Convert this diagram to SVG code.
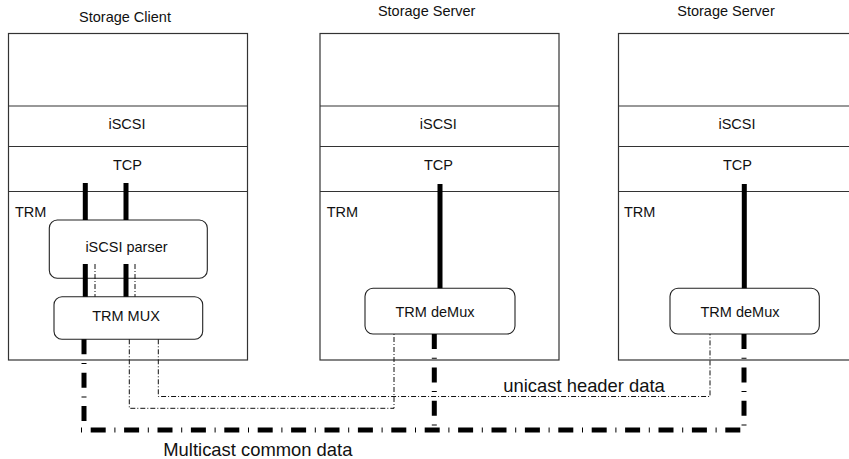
<svg xmlns="http://www.w3.org/2000/svg" width="849" height="459" viewBox="0 0 849 459">
<style>
text{font-family:"Liberation Sans",Arial,sans-serif;fill:#111}
.lbl{font-size:14.5px}
.mid{text-anchor:middle}
.big{font-size:18.4px}
.box{fill:#fff;stroke:#333;stroke-width:1.2}
.sep{stroke:#333;stroke-width:1.2;fill:none}
.rb{fill:#fff;stroke:#222;stroke-width:1.1}
.thick{stroke:#000;stroke-width:5;fill:none}
.mc{stroke:#000;stroke-width:5;fill:none;stroke-dasharray:15 8.7 1 8.7}
.uc{stroke:#111;stroke-width:1;fill:none;stroke-dasharray:5 2 1 2}
</style>
<rect width="849" height="459" fill="#fff"/>
<g id="client">
<text class="lbl mid" x="125" y="21.5">Storage Client</text>
<rect class="box" x="8.5" y="33.5" width="239" height="326.5"/>
<path class="sep" d="M8.5,106H247.5M8.5,146.5H247.5M8.5,191.5H247.5"/>
<text class="lbl mid" x="127" y="128.5">iSCSI</text>
<text class="lbl mid" x="127.5" y="170">TCP</text>
<text class="lbl" x="15" y="217">TRM</text>
</g>
<g id="server1">
<text class="lbl mid" x="426.7" y="16">Storage Server</text>
<rect class="box" x="320" y="33.5" width="239" height="326.5"/>
<path class="sep" d="M320,106H559M320,146.5H559M320,191.5H559"/>
<text class="lbl mid" x="438.3" y="128.5">iSCSI</text>
<text class="lbl mid" x="438.5" y="170">TCP</text>
<text class="lbl" x="326.7" y="217">TRM</text>
</g>
<g id="server2">
<text class="lbl mid" x="726" y="16">Storage Server</text>
<rect class="box" x="618.5" y="33.5" width="239.5" height="326.5"/>
<path class="sep" d="M618.5,106H858M618.5,146.5H858M618.5,191.5H858"/>
<text class="lbl mid" x="737" y="128.5">iSCSI</text>
<text class="lbl mid" x="737.5" y="170">TCP</text>
<text class="lbl" x="624" y="217">TRM</text>
</g>
<g id="parser">
<rect class="rb" x="49.3" y="220" width="158" height="58.3" rx="8"/>
<text class="lbl mid" x="126.5" y="251.5">iSCSI parser</text>
</g>
<g id="mux">
<rect class="rb" x="54" y="296.7" width="148.7" height="42.6" rx="8"/>
<text class="lbl mid" x="126" y="320.5">TRM MUX</text>
</g>
<g id="demux1">
<rect class="rb" x="365" y="288.3" width="150" height="45.7" rx="8"/>
<text class="lbl mid" x="435" y="316.5">TRM deMux</text>
</g>
<g id="demux2">
<rect class="rb" x="670" y="288.3" width="149.3" height="45.7" rx="8"/>
<text class="lbl mid" x="740" y="316.5">TRM deMux</text>
</g>
<g id="connectors">
<path class="thick" d="M85.3,183V220M126,183V220M85.3,264V296.7M126,264V296.7M440,184V288.3M744.3,184V288.3"/>
<path class="uc" d="M95,264V296.7M135,264V296.7"/>
<path class="mc" d="M84,339.3V427.5"/>
<path class="mc" d="M81,430H746.5" stroke-dashoffset="23.7"/>
<path class="mc" d="M744,334V432.5"/>
<path class="mc" d="M434.3,334V430"/>
<path class="uc" d="M158.3,339.3V396.5H710V334"/>
<path class="uc" d="M129.3,339.3V408.3H394V334"/>
</g>
<g id="labels">
<text class="big" x="503.3" y="391.7">unicast header data</text>
<text class="big" x="163.3" y="456">Multicast common data</text>
</g>
</svg>
